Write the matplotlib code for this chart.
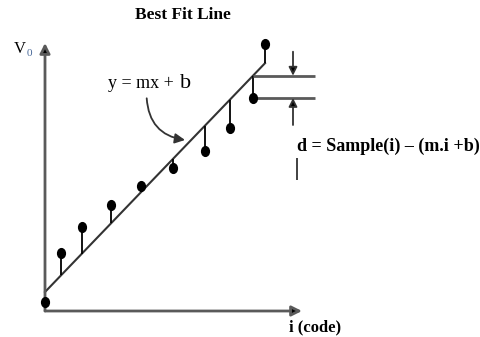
import matplotlib
matplotlib.use("Agg")
import matplotlib.pyplot as plt
import numpy as np
from matplotlib.path import Path
from matplotlib.patches import FancyArrowPatch

# Sample codes and measured outputs
codes = [0.0, 1.6, 3.7, 6.6, 9.6, 12.8, 16.0, 18.5, 20.8, 22.0]
samples = [0.9, 5.8, 8.4, 10.6, 12.5, 14.3, 16.0, 18.3, 21.3, 26.7]

# Best fit line parameters
m = 1.04
b = 1.9

title = "Best Fit Line"
x_label = "i (code)"
y_label = "V"
y_sub = "0"
fit_label = "y = mx +"
fit_b = "b"
d_label = "d = Sample(i) \u2013 (m.i +b)"

codes = np.array(codes)
samples = np.array(samples)
fit = m * codes + b

serif = ["Liberation Serif", "DejaVu Serif"]

fig = plt.figure(figsize=(4.81, 3.37), dpi=100)
ax = fig.add_axes([0, 0, 1, 1])
ax.set_xlim(-4.5, 43.6)
ax.set_ylim(-2.6, 31.1)
ax.axis("off")

axis_col = "#5a5a5a"
# axes with arrowheads
ax.annotate("", xy=(0, 26.8), xytext=(0, 0),
            arrowprops=dict(arrowstyle="-|>,head_length=0.6,head_width=0.3",
                            color=axis_col, lw=2.0, shrinkA=0, shrinkB=0,
                            fc="black"))
ax.annotate("", xy=(25.7, 0), xytext=(0, 0),
            arrowprops=dict(arrowstyle="-|>,head_length=0.6,head_width=0.3",
                            color=axis_col, lw=2.0, shrinkA=0, shrinkB=0,
                            fc="black"))

# fit line
ax.plot(codes, fit, color="#333333", lw=1.5, zorder=2)
# residual stems
ax.vlines(codes, fit, samples, color="black", lw=1.3, zorder=2)
# sample markers (slightly tall ellipses)
circ = Path.unit_circle()
ell = Path(circ.vertices * np.array([0.8, 1.0]), circ.codes)
ax.plot(codes, samples, linestyle="none", marker=ell, markersize=7,
        color="black", zorder=3)

# residual illustration on the last-but-one sample
k = 8
ax.hlines([fit[k], samples[k]], codes[k], 27.0, color=axis_col, lw=2.0)
ax.annotate("", xy=(24.8, fit[k]), xytext=(24.8, fit[k] + 2.4),
            arrowprops=dict(arrowstyle="-|>,head_length=0.5,head_width=0.25",
                            color="#333333", lw=1.3, shrinkA=0, shrinkB=0,
                            fc="black"))
ax.annotate("", xy=(24.8, samples[k]), xytext=(24.8, samples[k] - 2.7),
            arrowprops=dict(arrowstyle="-|>,head_length=0.5,head_width=0.25",
                            color="#333333", lw=1.3, shrinkA=0, shrinkB=0,
                            fc="black"))

# curved pointer to the fit line
arr = FancyArrowPatch((10.17, 21.27), (14.0, 17.1),
                      connectionstyle="arc3,rad=0.4",
                      arrowstyle="-|>,head_length=6,head_width=3",
                      color="#333333", lw=1.3, shrinkA=0, shrinkB=0)
ax.add_patch(arr)

# text
fig.text(183 / 481, 1 - 15 / 337, title, ha="center", va="center",
         family=serif, fontweight="bold", fontsize=12.5)
ax.text(-2.5, 26.2, y_label, ha="center", va="center", family=serif,
        fontsize=12)
ax.text(-1.55, 25.8, y_sub, ha="center", va="center", family=serif,
        fontsize=8, color="#4a6a9a")
# equation with an enlarged "b" sharing the same baseline
ax.text(6.3, 22.35, fit_label, ha="left", va="baseline",
        family=serif, fontsize=13)
ax.text(13.5, 22.35, fit_b, ha="left", va="baseline", family=serif,
        fontsize=16)
ax.text(25.2, 16.5, d_label, ha="left", va="center", family=serif,
        fontsize=13, fontweight="bold")
ax.vlines(25.2, 13.1, 15.3, color="#333333", lw=1.3)
ax.text(24.4, -1.6, x_label, ha="left", va="center", family=serif,
        fontsize=12, fontweight="bold")

fig.savefig("out.png", dpi=100)
